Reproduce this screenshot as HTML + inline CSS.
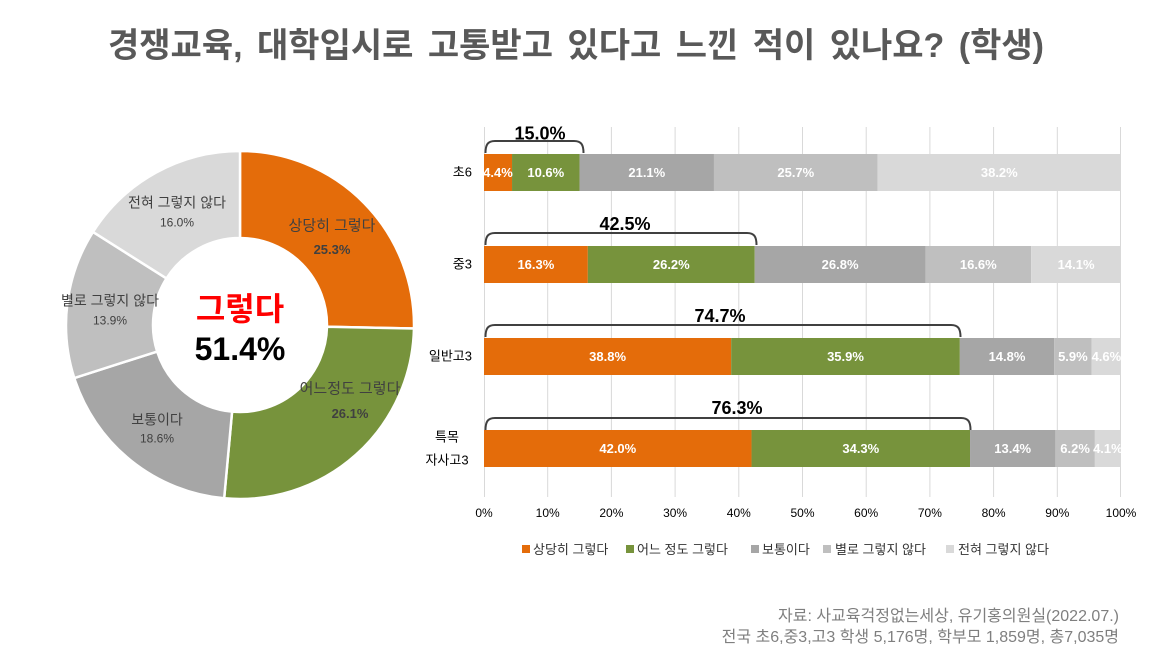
<!DOCTYPE html>
<html>
<head>
<meta charset="utf-8">
<style>
  html,body{margin:0;padding:0;background:#ffffff;}
  svg{display:block;}
  text{font-family:"Liberation Sans","Noto Sans CJK KR","NanumGothic",sans-serif;}
</style>
</head>
<body>
<svg width="1164" height="667" viewBox="0 0 1164 667" xmlns="http://www.w3.org/2000/svg">
  <rect x="0" y="0" width="1164" height="667" fill="#ffffff"/>

  <!-- Title -->
  <text x="576" y="57" font-size="34" font-weight="bold" fill="#595959" text-anchor="middle" word-spacing="5">경쟁교육, 대학입시로 고통받고 있다고 느낀 적이 있나요? (학생)</text>

  <!-- Donut -->
  <g stroke="#ffffff" stroke-width="2.5" stroke-linejoin="round">
    <path d="M240,151 A174,174 0 0 1 413.96,328.55 L326.98,326.78 A87,87 0 0 0 240,238 Z" fill="#E46C0A"/>
    <path d="M413.96,328.55 A174,174 0 0 1 224.17,498.28 L232.08,411.64 A87,87 0 0 0 326.98,326.78 Z" fill="#77933C"/>
    <path d="M224.17,498.28 A174,174 0 0 1 74.28,378.05 L157.14,351.52 A87,87 0 0 0 232.08,411.64 Z" fill="#A6A6A6"/>
    <path d="M74.28,378.05 A174,174 0 0 1 92.98,231.94 L166.49,278.47 A87,87 0 0 0 157.14,351.52 Z" fill="#BFBFBF"/>
    <path d="M92.98,231.94 A174,174 0 0 1 240,151 L240,238 A87,87 0 0 0 166.49,278.47 Z" fill="#D9D9D9"/>
  </g>

  <!-- Donut labels -->
  <g fill="#404040" text-anchor="middle">
    <text x="332" y="230.5" font-size="15">상당히 그렇다</text>
    <text x="332" y="254" font-size="13" font-weight="bold">25.3%</text>
    <text x="350" y="393.5" font-size="15">어느정도 그렇다</text>
    <text x="350" y="418" font-size="13" font-weight="bold">26.1%</text>
    <text x="157" y="424.5" font-size="14">보통이다</text>
    <text x="157" y="442.5" font-size="12">18.6%</text>
    <text x="110" y="305.5" font-size="14">별로 그렇지 않다</text>
    <text x="110" y="324.5" font-size="12">13.9%</text>
    <text x="177" y="207.5" font-size="14">전혀 그렇지 않다</text>
    <text x="177" y="226.5" font-size="12">16.0%</text>
  </g>

  <!-- Donut center -->
  <text x="240" y="320" font-size="32" font-weight="bold" fill="#FF0000" text-anchor="middle">그렇다</text>
  <text x="240" y="360" font-size="32" font-weight="bold" fill="#000000" text-anchor="middle">51.4%</text>

  <!-- Bar chart gridlines -->
  <g stroke="#D9D9D9" stroke-width="1">
    <line x1="484.5" y1="127" x2="484.5" y2="497"/>
    <line x1="547.7" y1="127" x2="547.7" y2="497"/>
    <line x1="611.4" y1="127" x2="611.4" y2="497"/>
    <line x1="675.1" y1="127" x2="675.1" y2="497"/>
    <line x1="738.8" y1="127" x2="738.8" y2="497"/>
    <line x1="802.5" y1="127" x2="802.5" y2="497"/>
    <line x1="866.2" y1="127" x2="866.2" y2="497"/>
    <line x1="929.9" y1="127" x2="929.9" y2="497"/>
    <line x1="993.6" y1="127" x2="993.6" y2="497"/>
    <line x1="1057.3" y1="127" x2="1057.3" y2="497"/>
    <line x1="1120.5" y1="127" x2="1120.5" y2="497"/>
  </g>

  <!-- Bars: 초6 -->
  <rect x="484" y="154" width="28.03" height="37" fill="#E46C0A"/>
  <rect x="512.03" y="154" width="67.52" height="37" fill="#77933C"/>
  <rect x="579.55" y="154" width="134.41" height="37" fill="#A6A6A6"/>
  <rect x="713.96" y="154" width="163.71" height="37" fill="#BFBFBF"/>
  <rect x="877.67" y="154" width="243.33" height="37" fill="#D9D9D9"/>
  <!-- 중3 -->
  <rect x="484" y="246" width="103.83" height="37" fill="#E46C0A"/>
  <rect x="587.83" y="246" width="166.9" height="37" fill="#77933C"/>
  <rect x="754.73" y="246" width="170.71" height="37" fill="#A6A6A6"/>
  <rect x="925.44" y="246" width="105.74" height="37" fill="#BFBFBF"/>
  <rect x="1031.18" y="246" width="89.82" height="37" fill="#D9D9D9"/>
  <!-- 일반고3 -->
  <rect x="484" y="338" width="247.16" height="37" fill="#E46C0A"/>
  <rect x="731.16" y="338" width="228.68" height="37" fill="#77933C"/>
  <rect x="959.84" y="338" width="94.28" height="37" fill="#A6A6A6"/>
  <rect x="1054.12" y="338" width="37.58" height="37" fill="#BFBFBF"/>
  <rect x="1091.7" y="338" width="29.3" height="37" fill="#D9D9D9"/>
  <!-- 특목 자사고3 -->
  <rect x="484" y="430" width="267.54" height="37" fill="#E46C0A"/>
  <rect x="751.54" y="430" width="218.49" height="37" fill="#77933C"/>
  <rect x="970.03" y="430" width="85.36" height="37" fill="#A6A6A6"/>
  <rect x="1055.39" y="430" width="39.49" height="37" fill="#BFBFBF"/>
  <rect x="1094.88" y="430" width="26.12" height="37" fill="#D9D9D9"/>

  <!-- Bar data labels -->
  <g fill="#ffffff" font-size="13" font-weight="bold" text-anchor="middle">
    <text x="498" y="177">4.4%</text>
    <text x="545.8" y="177">10.6%</text>
    <text x="646.8" y="177">21.1%</text>
    <text x="795.8" y="177">25.7%</text>
    <text x="999.3" y="177">38.2%</text>

    <text x="535.9" y="269">16.3%</text>
    <text x="671.3" y="269">26.2%</text>
    <text x="840.1" y="269">26.8%</text>
    <text x="978.3" y="269">16.6%</text>
    <text x="1076.1" y="269">14.1%</text>

    <text x="607.6" y="361">38.8%</text>
    <text x="845.5" y="361">35.9%</text>
    <text x="1007" y="361">14.8%</text>
    <text x="1072.9" y="361">5.9%</text>
    <text x="1106.4" y="361">4.6%</text>

    <text x="617.8" y="453">42.0%</text>
    <text x="860.8" y="453">34.3%</text>
    <text x="1012.7" y="453">13.4%</text>
    <text x="1075.1" y="453">6.2%</text>
    <text x="1107.9" y="453">4.1%</text>
  </g>

  <!-- Brackets -->
  <g fill="none" stroke="#404040" stroke-width="2">
    <path d="M485.5,153 C485.5,145 487.5,141 495,141 L574,141 C581.5,141 583.5,145 583.5,153"/>
    <path d="M485.5,245 C485.5,237 487.5,233 495,233 L747,233 C754.5,233 756.5,237 756.5,245"/>
    <path d="M485.5,337 C485.5,329 487.5,325 495,325 L951,325 C958.5,325 960.5,329 960.5,337"/>
    <path d="M485.5,430 C485.5,422 487.5,418 495,418 L961,418 C968.5,418 970.5,422 970.5,430"/>
  </g>
  <g fill="#000000" font-size="18" font-weight="bold" text-anchor="middle">
    <text x="540" y="139.5">15.0%</text>
    <text x="625" y="230">42.5%</text>
    <text x="720" y="322">74.7%</text>
    <text x="737" y="414">76.3%</text>
  </g>

  <!-- Category labels -->
  <g fill="#000000" font-size="13">
    <text x="472" y="176.5" text-anchor="end">초6</text>
    <text x="472" y="268.5" text-anchor="end">중3</text>
    <text x="472" y="360.5" text-anchor="end">일반고3</text>
    <text x="447" y="441.5" text-anchor="middle">특목</text>
    <text x="447" y="464.5" text-anchor="middle">자사고3</text>
  </g>

  <!-- X axis labels -->
  <g fill="#000000" font-size="12" text-anchor="middle">
    <text x="484" y="517">0%</text>
    <text x="547.7" y="517">10%</text>
    <text x="611.4" y="517">20%</text>
    <text x="675.1" y="517">30%</text>
    <text x="738.8" y="517">40%</text>
    <text x="802.5" y="517">50%</text>
    <text x="866.2" y="517">60%</text>
    <text x="929.9" y="517">70%</text>
    <text x="993.6" y="517">80%</text>
    <text x="1057.3" y="517">90%</text>
    <text x="1121" y="517">100%</text>
  </g>

  <!-- Legend -->
  <rect x="522" y="545" width="8" height="8" fill="#E46C0A"/>
  <rect x="626" y="545" width="8" height="8" fill="#77933C"/>
  <rect x="751" y="545" width="8" height="8" fill="#A6A6A6"/>
  <rect x="823" y="545" width="8" height="8" fill="#BFBFBF"/>
  <rect x="946" y="545" width="8" height="8" fill="#D9D9D9"/>
  <g fill="#333333" font-size="13">
    <text x="533" y="554">상당히 그렇다</text>
    <text x="637" y="554">어느 정도 그렇다</text>
    <text x="762" y="554">보통이다</text>
    <text x="835" y="554">별로 그렇지 않다</text>
    <text x="958" y="554">전혀 그렇지 않다</text>
  </g>

  <!-- Footer -->
  <g fill="#7F7F7F" font-size="16" text-anchor="end">
    <text x="1119" y="621">자료: 사교육걱정없는세상, 유기홍의원실(2022.07.)</text>
    <text x="1119" y="642">전국 초6,중3,고3 학생 5,176명, 학부모 1,859명, 총7,035명</text>
  </g>
</svg>
</body>
</html>
